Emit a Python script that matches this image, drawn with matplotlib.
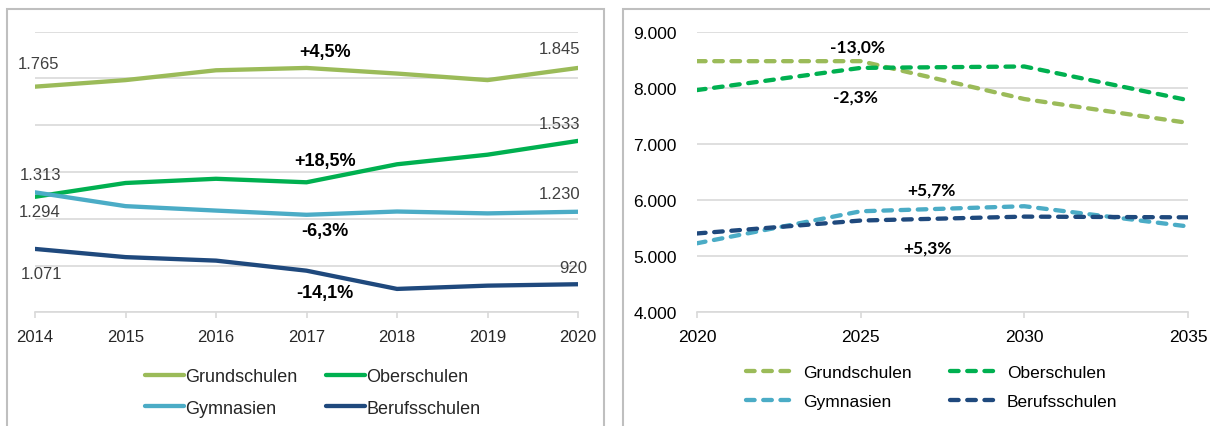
import matplotlib
matplotlib.use("Agg")
import matplotlib.pyplot as plt
from matplotlib.patches import Rectangle
from matplotlib.ticker import FuncFormatter

# ---------------- data ----------------
years_hist = [2014, 2015, 2016, 2017, 2018, 2019, 2020]
grund_hist = [1765, 1793, 1835, 1845, 1821, 1793, 1845]
ober_hist = [1294, 1353, 1371, 1356, 1433, 1474, 1533]
gym_hist = [1313, 1254, 1235, 1217, 1231, 1223, 1230]
beruf_hist = [1071, 1036, 1021, 978, 900, 914, 920]

years_proj = [2020, 2025, 2030, 2035]
grund_proj = [8475, 8475, 7800, 7375]
ober_proj = [7960, 8355, 8380, 7780]
gym_proj = [5230, 5800, 5890, 5530]
beruf_proj = [5405, 5635, 5705, 5692]

series_names = ["Grundschulen", "Oberschulen", "Gymnasien", "Berufsschulen"]
colors = ["#9BBB59", "#00B050", "#4BACC6", "#1F497D"]

hist_pct = ["+4,5%", "+18,5%", "-6,3%", "-14,1%"]
hist_pct_pos = [(2017.2, 1915), (2017.2, 1448), (2017.2, 1148), (2017.2, 883)]
proj_pct = ["-13,0%", "-2,3%", "+5,7%", "+5,3%"]
proj_pct_pos = [(2024.9, 8735), (2024.85, 7845), (2027.15, 6180), (2027.05, 5160)]

# ---------------- figure ----------------
W, H = 1210, 427
fig = plt.figure(figsize=(W / 100, H / 100), dpi=100)
plt.rcParams['font.family'] = ['Liberation Sans', 'DejaVu Sans']

def px_rect(x0, y0, x1, y1):
    return [x0 / W, 1 - y1 / H, (x1 - x0) / W, (y1 - y0) / H]

# panel borders
for (x0, x1) in [(7, 604), (623, 1230)]:
    fig.patches.append(Rectangle((x0 / W, -0.1), (x1 - x0) / W, 1.1 - 10 / H,
                                 transform=fig.transFigure, fill=False,
                                 edgecolor="#BFBFBF", linewidth=1.5))

grid_c = "#D9D9D9"
tick_c = "#262626"
label_c = "#404040"
pct_font_left = dict(family=["Liberation Sans", "DejaVu Sans"], weight="bold",
                     fontsize=13, color="black")
pct_font_right = dict(family=["Lato", "DejaVu Sans"], weight="bold",
                      fontsize=12.5, color="black")

# legend order: row 1 Grund/Ober, row 2 Gym/Beruf (matplotlib fills column-wise)
leg_order = [0, 2, 1, 3]

# ---------- left panel ----------
ax1 = fig.add_axes(px_rect(35, 32.7, 578, 313.3))
hist_series = [grund_hist, ober_hist, gym_hist, beruf_hist]
lines1 = []
for name, vals, c in zip(series_names, hist_series, colors):
    ln, = ax1.plot(years_hist, vals, color=c, linewidth=3.1, label=name,
                   solid_capstyle="round", zorder=3)
    lines1.append(ln)
ax1.set_xlim(2014, 2020)
ax1.set_ylim(800, 2000)
ax1.set_yticks(range(800, 2001, 200))
ax1.yaxis.grid(True, color=grid_c, linewidth=1.2)
ax1.set_axisbelow(True)
ax1.tick_params(axis="y", left=False, labelleft=False)
ax1.set_xticks(years_hist)
ax1.tick_params(axis="x", direction="out", length=4, color=grid_c, width=1.2,
                pad=8, labelsize=12, labelcolor=tick_c)
for s in ["top", "left", "right"]:
    ax1.spines[s].set_visible(False)
ax1.spines["bottom"].set_color(grid_c)
ax1.spines["bottom"].set_linewidth(1.2)

def px2pt(v):
    return v * 0.72

val_labels = [
    (years_hist[0], grund_hist[0], 3, 22.7, "center"),
    (years_hist[-1], grund_hist[-1], 2, 19, "right"),
    (years_hist[-1], ober_hist[-1], 2, 17, "right"),
    (years_hist[0], gym_hist[0], 5, 17.7, "center"),
    (years_hist[0], ober_hist[0], 5, -14.7, "center"),
    (years_hist[-1], gym_hist[-1], 2, 18.7, "right"),
    (years_hist[0], beruf_hist[0], 6, -25, "center"),
    (years_hist[-1], beruf_hist[-1], 9, 16.7, "right"),
]
for x, y, dx, dy, ha in val_labels:
    txt = f"{y:,}".replace(",", ".")
    ax1.annotate(txt, (x, y), xytext=(px2pt(dx), px2pt(dy)), textcoords="offset points",
                 ha=ha, va="center", fontsize=12, color=label_c, annotation_clip=False)

for t, (x, y) in zip(hist_pct, hist_pct_pos):
    ax1.text(x, y, t, ha="center", va="center", **pct_font_left)

fig.legend(handles=[lines1[i] for i in leg_order], labels=[series_names[i] for i in leg_order],
           ncol=2, loc="center", bbox_to_anchor=(312.5 / W, 1 - 393.5 / H),
           frameon=False, fontsize=13, handlelength=2.2, handletextpad=0.05,
           columnspacing=1.55, labelspacing=0.8, labelcolor=tick_c)

# ---------- right panel ----------
ax2 = fig.add_axes(px_rect(697, 32.7, 1188, 313.3))
proj_series = [grund_proj, ober_proj, gym_proj, beruf_proj]
lines2 = []
for name, vals, c in zip(series_names, proj_series, colors):
    ln, = ax2.plot(years_proj, vals, color=c, linewidth=3.1, label=name,
                   linestyle=(0, (2.0, 2.0)), dash_capstyle="round", zorder=3)
    lines2.append(ln)
ax2.set_xlim(2020, 2035)
ax2.set_ylim(4000, 9000)
ax2.set_yticks(range(4000, 9001, 1000))
ax2.yaxis.set_major_formatter(FuncFormatter(lambda v, p: f"{int(v):,}".replace(",", ".")))
ax2.yaxis.grid(True, color=grid_c, linewidth=1.2)
ax2.set_axisbelow(True)
ax2.tick_params(axis="y", left=False, pad=11, labelsize=12.5, labelcolor="black")
ax2.set_xticks(years_proj)
ax2.tick_params(axis="x", direction="out", length=4, color=grid_c, width=1.2,
                pad=8, labelsize=12.5, labelcolor="black")
for s in ["top", "left", "right"]:
    ax2.spines[s].set_visible(False)
ax2.spines["bottom"].set_color(grid_c)
ax2.spines["bottom"].set_linewidth(1.2)

for t, (x, y) in zip(proj_pct, proj_pct_pos):
    ax2.text(x, y, t, ha="center", va="center", **pct_font_right)

fig.legend(handles=[lines2[i] for i in leg_order], labels=[series_names[i] for i in leg_order],
           ncol=2, loc="center", bbox_to_anchor=(931.5 / W, 1 - 388.4 / H),
           frameon=False, fontsize=12.5, handlelength=2.75, handletextpad=0.55,
           columnspacing=2.2, labelspacing=0.8, labelcolor="black")

fig.savefig("out.png", dpi=100)
